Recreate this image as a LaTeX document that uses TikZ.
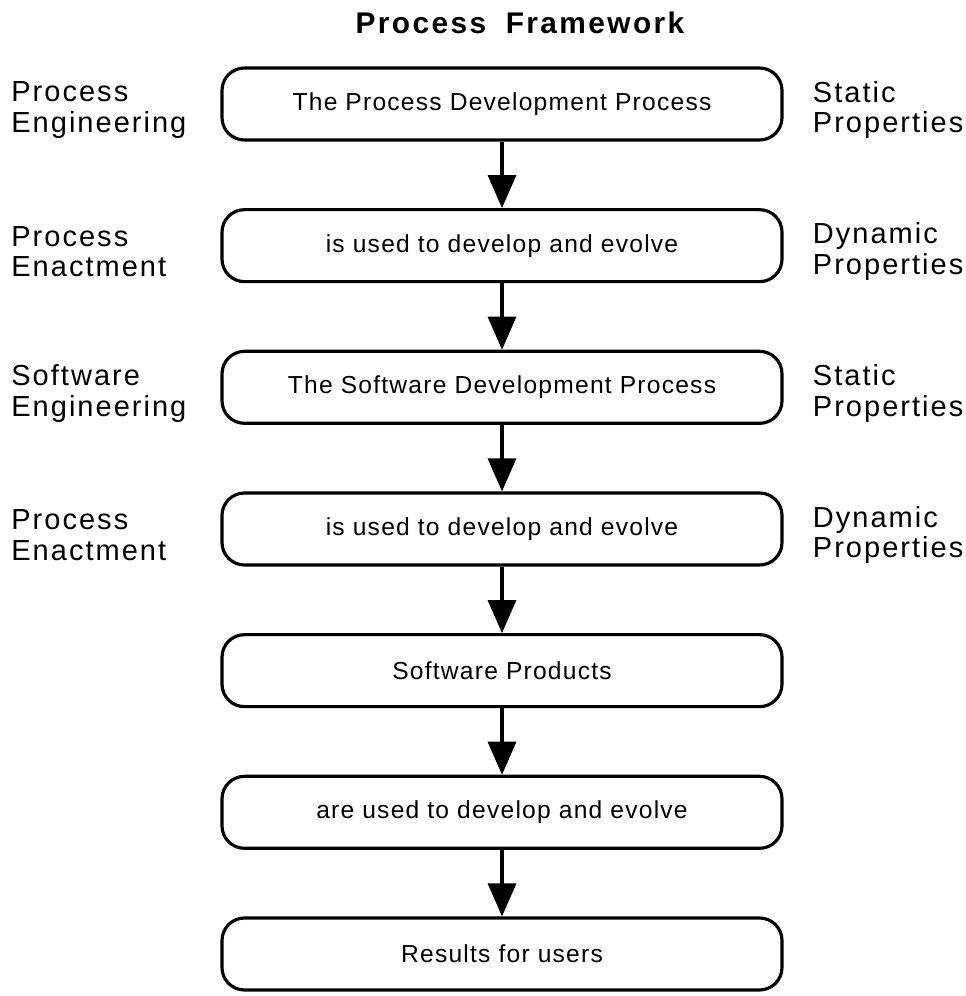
\documentclass[tikz,border=0pt]{standalone}
\usepackage{fontspec}
\setmainfont{Liberation Sans}
\newfontfamily\boxfont[LetterSpace=5]{Liberation Sans}
\newfontfamily\sidefont[LetterSpace=7]{Liberation Sans}
\newfontfamily\titlefont[LetterSpace=8]{Liberation Sans}
\usepackage{tikz}
\usetikzlibrary{arrows.meta,positioning}

\begin{document}
\begin{tikzpicture}[
    node distance=1.33cm,
    stage/.style={rectangle, rounded corners=0.45cm, draw, line width=1.8pt, minimum width=11.2cm, minimum height=1.44cm, align=center, font=\boxfont\fontsize{14}{16}\selectfont},
    side/.style={align=left, inner sep=0pt, yshift=-0.12cm, font=\sidefont\fontsize{16.5}{17.6}\selectfont},
    arrow/.style={-{Triangle[width=0.56cm,length=0.66cm]}, line width=1.8pt}
]
    \useasboundingbox (0,0) rectangle (19.3,-19.92);
    \node[font=\titlefont\bfseries\fontsize{17}{20}\selectfont] (title) at (10.4,-0.46) {Process\hspace{0.3em} Framework};

    \node[stage] (pdp) at (10.04,-2.08) {The Process Development Process};
    \node[stage, below=of pdp] (use1) {is used to develop and evolve};
    \node[stage, below=of use1] (sdp) {The Software Development Process};
    \node[stage, below=of sdp] (use2) {is used to develop and evolve};
    \node[stage, below=of use2] (prod) {Software Products};
    \node[stage, below=of prod] (use3) {are used to develop and evolve};
    \node[stage, below=of use3] (results) {Results for users};

    % labels left and right of the upper boxes
    \coordinate (lx) at (0.22,0);
    \node[side, anchor=west] (eng1) at (lx |- pdp) {Process\\Engineering};
    \node[side, anchor=west] (enact1) at (lx |- use1) {Process\\Enactment};
    \node[side, anchor=west] (eng2) at (lx |- sdp) {Software\\Engineering};
    \node[side, anchor=west] (enact2) at (lx |- use2) {Process\\Enactment};
    \node[side, right=0.58cm of pdp] (stat1) {Static\\Properties};
    \node[side, right=0.58cm of use1] (dyn1) {Dynamic\\Properties};
    \node[side, right=0.58cm of sdp] (stat2) {Static\\Properties};
    \node[side, right=0.58cm of use2] (dyn2) {Dynamic\\Properties};

    \draw[arrow] (pdp) -- (use1);
    \draw[arrow] (use1) -- (sdp);
    \draw[arrow] (sdp) -- (use2);
    \draw[arrow] (use2) -- (prod);
    \draw[arrow] (prod) -- (use3);
    \draw[arrow] (use3) -- (results);
\end{tikzpicture}
\end{document}
